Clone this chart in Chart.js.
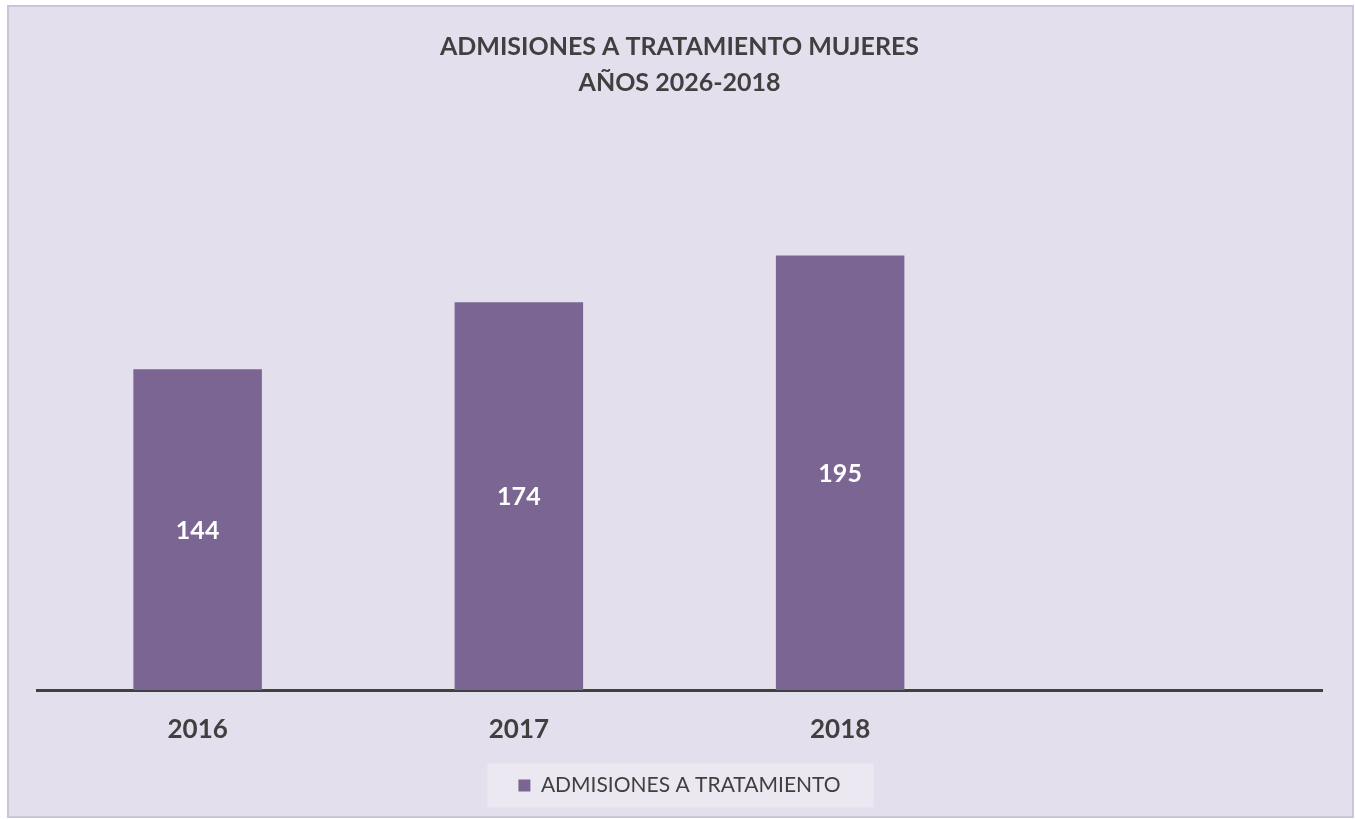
<!DOCTYPE html>
<html>
<head>
<meta charset="utf-8">
<script src="https://cdn.jsdelivr.net/npm/chart.js@4/dist/chart.umd.min.js"></script>
<style>
  html, body { margin: 0; padding: 0; background: #fff; }
  #frame {
    position: absolute; left: 7px; top: 5px; width: 1343px; height: 809px;
    background: #E4DFEC; border: 2px solid #CDC3DB;
  }
  #wrap { position: absolute; left: 0; top: 0; width: 1355px; height: 819px; }
</style>
</head>
<body>
<div id="frame"></div>
<div id="wrap"><canvas id="chart" width="1355" height="819"></canvas></div>
<script>
// datos del grafico
const years = ['2016', '2017', '2018', ''];
const admisiones = [144, 174, 195, null];
const seriesName = 'ADMISIONES A TRATAMIENTO';
const titleLines = ['ADMISIONES A TRATAMIENTO MUJERES', 'AÑOS 2026-2018'];

const FONT = 'Lato, "Open Sans", sans-serif';
const INK = '#404040';
const BAR = '#7B6693';

// etiquetas blancas centradas dentro de cada barra
const barLabels = {
  id: 'barLabels',
  afterDatasetsDraw(chart) {
    const { ctx } = chart;
    const meta = chart.getDatasetMeta(0);
    ctx.save();
    ctx.font = 'bold 25px ' + FONT;
    ctx.fillStyle = '#fff';
    ctx.textAlign = 'center';
    ctx.textBaseline = 'middle';
    meta.data.forEach((bar, i) => {
      const v = admisiones[i];
      if (v == null) return;
      ctx.fillText(v, bar.x, (bar.y + bar.base) / 2 + 1);
    });
    ctx.restore();
  }
};

// fondo claro detras de la leyenda
const legendBg = {
  id: 'legendBg',
  beforeDraw(chart) {
    const lg = chart.legend;
    if (!lg || !lg.legendHitBoxes || !lg.legendHitBoxes.length) return;
    const hb = lg.legendHitBoxes[0];
    const { ctx } = chart;
    ctx.save();
    ctx.fillStyle = '#ECE8F1';
    const cy = hb.top + hb.height / 2;
    ctx.fillRect(hb.left - 31, cy - 22, hb.width + 31 + 33, 44);
    ctx.restore();
  }
};

new Chart(document.getElementById('chart'), {
  type: 'bar',
  data: {
    labels: years,
    datasets: [{
      label: seriesName,
      data: admisiones,
      backgroundColor: BAR,
      borderWidth: 0,
      categoryPercentage: 1,
      barPercentage: 0.4
    }]
  },
  options: {
    responsive: false,
    animation: false,
    devicePixelRatio: 1,
    layout: { padding: { left: 37, right: 33, top: 5, bottom: 13 } },
    plugins: {
      title: {
        display: true,
        text: titleLines,
        color: INK,
        font: { family: FONT, size: 25, weight: 'bold', lineHeight: 1.44 },
        padding: { top: 24, bottom: 32 }
      },
      legend: {
        display: true,
        position: 'bottom',
        labels: {
          color: INK,
          font: { family: FONT, size: 21 },
          boxWidth: 12,
          boxHeight: 12,
          padding: 10
        }
      },
      tooltip: { enabled: false }
    },
    scales: {
      x: {
        grid: { display: false, drawTicks: false },
        border: { display: true, color: INK, width: 3 },
        ticks: { color: INK, font: { family: FONT, size: 26, weight: 'bold' }, padding: 24 },
        afterFit(s) { s.height = 75; }
      },
      y: {
        display: false,
        min: 0,
        max: 250
      }
    }
  },
  plugins: [legendBg, barLabels]
});
</script>
</body>
</html>
